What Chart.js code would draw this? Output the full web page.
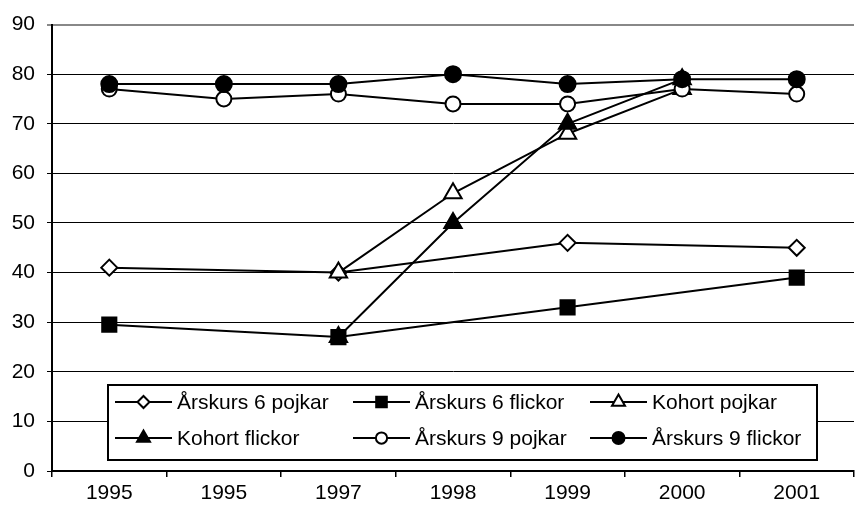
<!DOCTYPE html>
<html lang="sv">
<head>
    <meta charset="UTF-8">
    <title>Årskurs och kohort</title>
    <style>
        html, body { margin: 0; padding: 0; background: #fff; overflow: hidden; }
    </style>
</head>
<body>
<script src="https://cdn.jsdelivr.net/npm/chart.js@4/dist/chart.umd.min.js"></script>

<canvas id="chart" width="866" height="511"></canvas>
<script>
    const years = ['1995', '1995', '1997', '1998', '1999', '2000', '2001']
    const yTicks = [0, 10, 20, 30, 40, 50, 60, 70, 80, 90]

    const ak6Pojkar = [41, null, 40, null, 46, null, 45]
    const ak6Flickor = [29.5, null, 27, null, 33, null, 39]
    const kohortPojkar = [null, null, 40, 56, 68, 77, null]
    const kohortFlickor = [null, null, 27, 50, 70, 79, null]
    const ak9Pojkar = [77, 75, 76, 74, 74, 77, 76]
    const ak9Flickor = [78, 78, 78, 80, 78, 79, 79]

    const FONT = 'Liberation Sans, Arial, sans-serif'

    function series(label, data, style, fill, radius, i) {
        return {
            label: label,
            data: data,
            borderColor: '#000',
            borderWidth: 2,
            pointStyle: style,
            pointRadius: radius,
            pointHoverRadius: radius,
            pointBackgroundColor: fill,
            pointBorderColor: '#000',
            pointBorderWidth: 2,
            spanGaps: true,
            tension: 0,
            order: 5 - i
        }
    }

    // legend drawn inside the plot area like the original
    const boxLegend = {
        id: 'boxLegend',
        afterDraw(chart) {
            const ctx = chart.ctx
            const left = 108, top = 385, right = 817, bottom = 460
            const cols = [115, 353, 590]
            const rows = [402, 438]
            ctx.save()
            ctx.fillStyle = '#fff'
            ctx.fillRect(left, top, right - left, bottom - top)
            ctx.strokeStyle = '#000'
            ctx.lineWidth = 2
            ctx.strokeRect(left, top, right - left, bottom - top)
            ctx.font = '21px ' + FONT
            ctx.textBaseline = 'middle'
            chart.data.datasets.forEach((ds, i) => {
                const x = cols[i % 3]
                const y = rows[Math.floor(i / 3)]
                ctx.strokeStyle = '#000'
                ctx.lineWidth = 2
                ctx.beginPath()
                ctx.moveTo(x, y)
                ctx.lineTo(x + 57, y)
                ctx.stroke()
                ctx.fillStyle = ds.pointBackgroundColor
                ctx.lineWidth = 2
                Chart.helpers.drawPoint(ctx, {
                    pointStyle: ds.pointStyle,
                    radius: ds.pointRadius * 0.75,
                    borderWidth: 2,
                    rotation: 0
                }, x + 28.5, y)
                ctx.fillStyle = '#000'
                ctx.textAlign = 'left'
                ctx.fillText(ds.label, x + 62, y + 1)
            })
            ctx.restore()
        }
    }

    const ctx = document.getElementById('chart').getContext('2d')
    const chart = new Chart(ctx, {
        type: 'line',
        data: {
            labels: years,
            datasets: [
                series('Årskurs 6 pojkar', ak6Pojkar, 'rectRot', '#fff', 8, 0),
                series('Årskurs 6 flickor', ak6Flickor, 'rect', '#000', 10, 1),
                series('Kohort pojkar', kohortPojkar, 'triangle', '#fff', 10, 2),
                series('Kohort flickor', kohortFlickor, 'triangle', '#000', 10, 3),
                series('Årskurs 9 pojkar', ak9Pojkar, 'circle', '#fff', 7.5, 4),
                series('Årskurs 9 flickor', ak9Flickor, 'circle', '#000', 8, 5)
            ]
        },
        options: {
            responsive: false,
            animation: false,
            layout: { padding: { top: 23, right: 0, bottom: 0, left: 0 } },
            plugins: {
                legend: { display: false },
                tooltip: { enabled: false }
            },
            scales: {
                x: {
                    offset: true,
                    afterFit: s => { s.height = 40 },
                    grid: {
                        offset: true,
                        drawOnChartArea: false,
                        tickLength: 6,
                        color: '#000',
                        lineWidth: 1.5
                    },
                    border: { color: '#000', width: 2 },
                    ticks: {
                        color: '#000',
                        font: { family: FONT, size: 21 },
                        padding: 4,
                        maxRotation: 0,
                        autoSkip: false
                    }
                },
                y: {
                    min: 0,
                    max: 90,
                    afterFit: s => { s.width = 52 },
                    afterBuildTicks: s => { s.ticks = yTicks.map(v => ({ value: v })) },
                    grid: {
                        tickLength: 5,
                        color: c => c.tick && c.tick.value === 90 ? '#888' : '#000',
                        lineWidth: c => c.tick && c.tick.value === 90 ? 2 : 1
                    },
                    border: { color: '#000', width: 2 },
                    ticks: {
                        color: '#000',
                        font: { family: FONT, size: 21 },
                        padding: 12
                    }
                }
            }
        },
        plugins: [boxLegend]
    })
</script>
</body>
</html>
